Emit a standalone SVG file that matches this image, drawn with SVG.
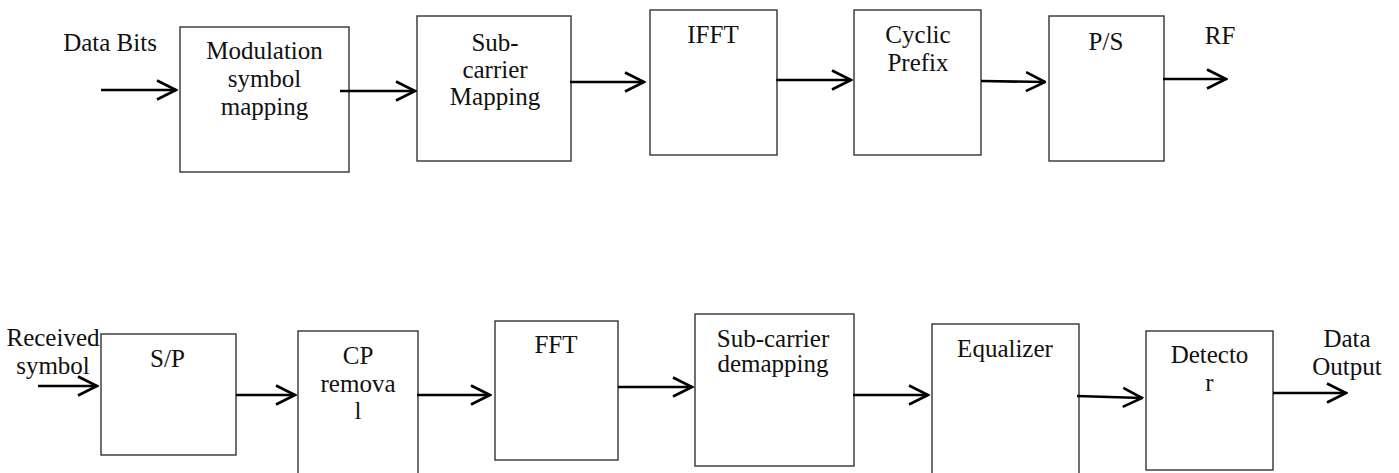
<svg xmlns="http://www.w3.org/2000/svg" width="1399" height="473" viewBox="0 0 1399 473">
<style>
.box{fill:#fff;stroke:#333;stroke-width:1.4}
.t{font-family:"Liberation Serif","Times New Roman",serif;font-size:25px;fill:#111;text-anchor:middle}
.c{stroke:#000;stroke-width:2.6;fill:none;marker-end:url(#ah)}
</style>
<defs>
<marker id="ah" viewBox="0 0 22 22" refX="20.5" refY="11" markerWidth="22" markerHeight="22" markerUnits="userSpaceOnUse" orient="auto">
<path d="M1.5,1.5 L20.5,11 L1.5,20.5" fill="none" stroke="#000" stroke-width="2.6"/>
</marker>
</defs>
<rect width="1399" height="473" fill="#fff"/>
<g id="n-modulation"><rect class="box" x="180" y="27" width="169" height="145"/><text class="t" x="264.5" y="59">Modulation</text><text class="t" x="264.5" y="87">symbol</text><text class="t" x="264.5" y="115">mapping</text></g>
<g id="n-subcarrier-mapping"><rect class="box" x="417" y="16" width="154" height="145"/><text class="t" x="495" y="51">Sub-</text><text class="t" x="495" y="78">carrier</text><text class="t" x="495" y="105">Mapping</text></g>
<g id="n-ifft"><rect class="box" x="650" y="10" width="127" height="145"/><text class="t" x="713" y="43">IFFT</text></g>
<g id="n-cyclic-prefix"><rect class="box" x="854" y="10" width="127" height="145"/><text class="t" x="918" y="43">Cyclic</text><text class="t" x="918" y="71">Prefix</text></g>
<g id="n-ps"><rect class="box" x="1049" y="16" width="115" height="145"/><text class="t" x="1106" y="50">P/S</text></g>
<g id="n-sp"><rect class="box" x="101" y="334" width="135" height="121"/><text class="t" x="167.5" y="367">S/P</text></g>
<g id="n-cp-removal"><rect class="box" x="298" y="331" width="120" height="150"/><text class="t" x="358" y="364">CP</text><text class="t" x="358" y="392">remova</text><text class="t" x="358" y="419">l</text></g>
<g id="n-fft"><rect class="box" x="495" y="321" width="123" height="139"/><text class="t" x="556" y="353">FFT</text></g>
<g id="n-subcarrier-demapping"><rect class="box" x="695" y="314" width="159" height="152"/><text class="t" x="773" y="347">Sub-carrier</text><text class="t" x="773" y="372">demapping</text></g>
<g id="n-equalizer"><rect class="box" x="932" y="324" width="147" height="150"/><text class="t" x="1005" y="357">Equalizer</text></g>
<g id="n-detector"><rect class="box" x="1146" y="331" width="127" height="139"/><text class="t" x="1209.5" y="363">Detecto</text><text class="t" x="1209.5" y="391">r</text></g>
<g id="labels">
<text class="t" x="110" y="51">Data Bits</text>
<text class="t" x="1220" y="44">RF</text>
<text class="t" x="53" y="346">Received</text>
<text class="t" x="53" y="374">symbol</text>
<text class="t" x="1347" y="347">Data</text>
<text class="t" x="1347" y="375">Output</text>
</g>
<g id="connectors">
<line class="c" x1="101" y1="90" x2="176" y2="90"/>
<line class="c" x1="340" y1="91" x2="415" y2="91"/>
<line class="c" x1="570" y1="82" x2="644" y2="82"/>
<line class="c" x1="776" y1="80" x2="851" y2="80"/>
<line class="c" x1="981" y1="81" x2="1045" y2="82"/>
<line class="c" x1="1163" y1="79" x2="1226" y2="79"/>
<line class="c" x1="38" y1="386" x2="97" y2="386"/>
<line class="c" x1="236" y1="395" x2="295" y2="395"/>
<line class="c" x1="417" y1="395" x2="490" y2="395"/>
<line class="c" x1="618" y1="387" x2="692" y2="387"/>
<line class="c" x1="853" y1="395" x2="928" y2="395"/>
<line class="c" x1="1077" y1="396" x2="1142" y2="398"/>
<line class="c" x1="1273" y1="393" x2="1346" y2="393"/>
</g>
</svg>
